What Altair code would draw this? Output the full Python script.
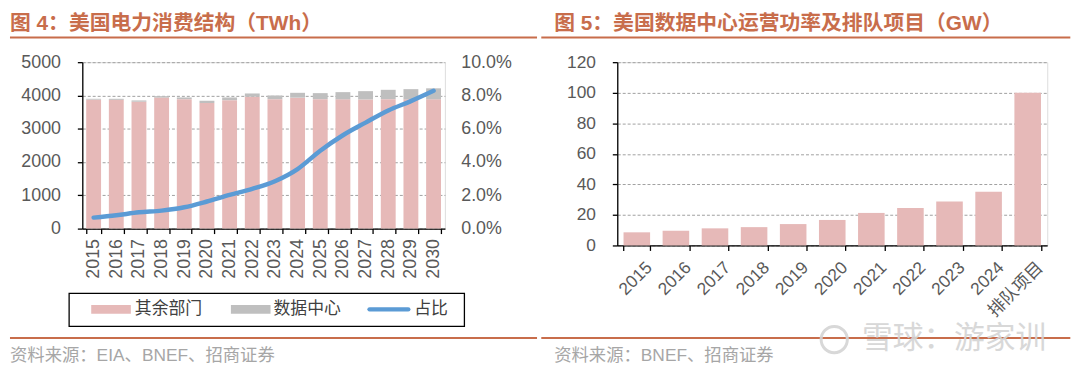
import altair as alt
import pandas as pd

# ---------------- data ----------------
years = [str(y) for y in range(2015, 2031)]
other_twh = [3874, 3869, 3812, 3937, 3890, 3777, 3860, 3963, 3890, 3934, 3890, 3885, 3880, 3890, 3885, 3885]
dc_twh = [26, 31, 38, 43, 50, 63, 80, 97, 110, 146, 180, 215, 250, 280, 305, 330]
dc_share = [0.0066, 0.0080, 0.0098, 0.0108, 0.0128, 0.0163, 0.0203, 0.0239, 0.0285, 0.0358,
            0.0468, 0.0561, 0.0637, 0.0710, 0.0766, 0.0828]
series_names = ["其余部门", "数据中心", "占比"]

power_cats = ["2015", "2016", "2017", "2018", "2019", "2020", "2021", "2022", "2023", "2024", "排队项目"]
power_gw = [8.6, 9.7, 11.2, 12.0, 14.0, 16.7, 21.3, 24.5, 28.8, 35.2, 100]

title_left = "图 4：美国电力消费结构（TWh）"
title_right = "图 5：美国数据中心运营功率及排队项目（GW）"
source_left = "资料来源：EIA、BNEF、招商证券"
source_right = "资料来源：BNEF、招商证券"
watermark = "雪球：游家训"

# ---------------- styles ----------------
FONT = "Liberation Sans, Noto Sans CJK SC, sans-serif"
CJK = "Noto Sans CJK SC, sans-serif"
PINK = "#E6B9B8"
GRAY = "#BFBFBF"
BLUE = "#5B9BD5"
ACC = "#C86D4B"
TXT = "#595959"
GRID = "#A0A0A0"

bars_df = pd.DataFrame({
    "year": years * 2,
    "series": [series_names[0]] * len(years) + [series_names[1]] * len(years),
    "value": other_twh + dc_twh,
    "order": [0] * len(years) + [1] * len(years),
})
share_df = pd.DataFrame({"year": years, "share": dc_share})
power_df = pd.DataFrame({"cat": power_cats, "gw": power_gw})
ONE = pd.DataFrame({"k": [0]})


def rule(x1, x2, y, color=ACC, w=2.0, opacity=1.0):
    return alt.Chart(ONE).mark_rule(color=color, strokeWidth=w, opacity=opacity).encode(
        x=alt.value(x1), x2=alt.value(x2), y=alt.value(y))


def label(text, x, y, size, color, weight="normal", font=FONT, opacity=1.0):
    return alt.Chart(pd.DataFrame({"t": [text]})).mark_text(
        align="left", baseline="middle", fontSize=size, color=color,
        fontWeight=weight, font=font, opacity=opacity).encode(
        text="t:N", x=alt.value(x), y=alt.value(y))


def box(x1, x2, y1, y2, fill=None, stroke=None, sw=1.3):
    kw = {}
    if fill is not None:
        kw["color"] = fill
    else:
        kw["fillOpacity"] = 0
        kw["fill"] = "white"
    if stroke is not None:
        kw["stroke"] = stroke
        kw["strokeWidth"] = sw
    return alt.Chart(ONE).mark_rect(**kw).encode(
        x=alt.value(x1), x2=alt.value(x2), y=alt.value(y1), y2=alt.value(y2))


# ---------------- left panel ----------------
W1, H1 = 366, 168
x_left = alt.X(
    "year:O", sort=years, title=None,
    scale=alt.Scale(paddingInner=0.344, paddingOuter=0.172),
    axis=alt.Axis(labelAngle=270, labelFontSize=18, labelColor=TXT, labelFont=FONT,
                  labelPadding=5, domainColor="black", domainWidth=1.3,
                  tickColor="black", tickWidth=1.3, tickSize=5, tickBand="extent",
                  grid=False))

bars = alt.Chart(bars_df).mark_bar().encode(
    x=x_left,
    y=alt.Y("value:Q", stack="zero", title=None,
            scale=alt.Scale(domain=[0, 5000], nice=False),
            axis=alt.Axis(values=[0, 1000, 2000, 3000, 4000, 5000], format="d",
                          labelFontSize=18,
                          labelColor=TXT, labelFont=FONT, labelPadding=17,
                          domainColor="black", domainWidth=1.3, tickColor="black",
                          tickWidth=1.3, tickSize=5, grid=True, gridColor=GRID,
                          gridDash=[3, 2], gridWidth=1)),
    color=alt.Color("series:N", scale=alt.Scale(domain=series_names[:2], range=[PINK, GRAY]),
                    legend=None),
    order=alt.Order("order:Q"),
)

line = alt.Chart(share_df).mark_line(color=BLUE, strokeWidth=4.5, interpolate="monotone",
                                     strokeCap="round").encode(
    x=x_left,
    y=alt.Y("share:Q", title=None, scale=alt.Scale(domain=[0, 0.1], nice=False),
            axis=alt.Axis(orient="right", format=".1%",
                          values=[0, 0.02, 0.04, 0.06, 0.08, 0.10],
                          labelFontSize=18, labelColor=TXT, labelFont=FONT,
                          labelPadding=16, ticks=False, domain=False, grid=False)),
)

left_deco = [
    rule(-73, 459, -52, opacity=0),
    label(title_left, -73, -38, 21, ACC, weight="bold"),
    rule(-73, 459, -25),
    # legend
    box(-13.3, 385.7, 233.3, 266.7, stroke="black", sw=1.3),
    box(9, 49, 245, 254, fill=PINK),
    label(series_names[0], 53, 249.5, 17, "#404040", font=CJK),
    box(150, 190, 245, 254, fill=GRAY),
    label(series_names[1], 193, 249.5, 17, "#404040", font=CJK),
    alt.Chart(ONE).mark_rule(color=BLUE, strokeWidth=4.5, strokeCap="round").encode(
        x=alt.value(290), x2=alt.value(329), y=alt.value(249.5)),
    label(series_names[2], 335, 249.5, 17, "#404040", font=CJK),
    rule(-73, 459, 278.5),
    label(source_left, -73, 297, 17.5, "#A6A6A6"),
]

left = alt.layer(bars, line, *left_deco).resolve_scale(y="independent").properties(
    width=W1, height=H1)

# ---------------- right panel ----------------
W2, H2 = 434, 185
power_bars = alt.Chart(power_df).mark_bar(color=PINK).encode(
    x=alt.X("cat:O", sort=power_cats, title=None,
            scale=alt.Scale(paddingInner=0.32, paddingOuter=0.16),
            axis=alt.Axis(labelAngle=-45, labelAlign="right", labelBaseline="top",
                          labelOffset=6, labelPadding=8, labelFontSize=17.5,
                          labelColor=TXT, labelFont=FONT, domainColor="black",
                          domainWidth=1.3, tickColor="black", tickWidth=1.3, tickSize=5,
                          tickBand="extent", grid=False)),
    y=alt.Y("gw:Q", title=None, scale=alt.Scale(domain=[0, 120], nice=False),
            axis=alt.Axis(values=[0, 20, 40, 60, 80, 100, 120], labelFontSize=17.5,
                          labelColor=TXT, labelFont=FONT, labelPadding=17,
                          domainColor="black", domainWidth=1.3, tickColor="black",
                          tickWidth=1.3, tickSize=5, grid=True, gridColor=GRID,
                          gridDash=[3, 2], gridWidth=1)),
)

right_deco = [
    rule(-76.7, 457.3, -52, opacity=0),
    label(title_right, -63.7, -38, 21, ACC, weight="bold"),
    rule(-76.7, 457.3, -25),
    rule(-76.7, 457.3, 278.5),
    label(source_right, -63.7, 297, 17.5, "#A6A6A6"),
    alt.Chart(ONE).mark_point(shape="circle", size=700, filled=False, color="#D4D4D4",
                              strokeWidth=3, opacity=0.9).encode(
        x=alt.value(219), y=alt.value(280)),
    label(watermark, 247, 280, 31, "#D4D4D4", font=CJK, opacity=0.9),
]

right = alt.layer(power_bars, *right_deco).properties(width=W2, height=H2)

chart = alt.hconcat(left, right, spacing=0).properties(padding=0).configure_view(
    stroke=None).configure(font=FONT)

chart.save("out.html", embed_options={"renderer": "svg", "actions": False})
